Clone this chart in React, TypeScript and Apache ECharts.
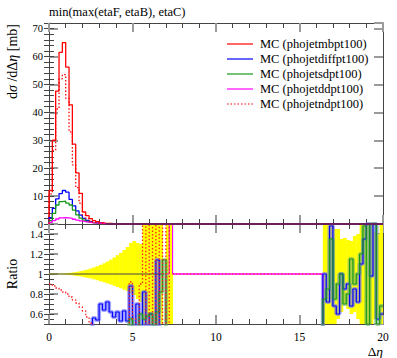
import React, { useEffect, useRef } from 'react';
import * as echarts from 'echarts';

const FONT = 'Liberation Serif';
const BIN = 0.2;
const X_MAX = 20;
const TITLE = 'min(max(etaF, etaB), etaC)';
const LEGEND = ['MC (phojetmbpt100)', 'MC (phojetdiffpt100)', 'MC (phojetsdpt100)', 'MC (phojetddpt100)', 'MC (phojetndpt100)'];
const COLORS = ['#ff0000', '#0000ff', '#169916', '#ff00ff', '#ff0000'];

// top panel: dσ/dΔη [mb], bins of 0.2 starting at 0
const mbpt100 = [12, 30, 47.6, 61.5, 65, 56.2, 42.7, 28.6, 18.3, 11, 4.3, 3.0, 1.9, 1.2, 0.8, 0.5, 0.35, 0.25, 0.18, 0.12, 0.08];
const diffpt100 = [2.3, 5.6, 9.0, 10.9, 12.0, 11.4, 8.8, 6.5, 4.7, 3.2, 2.0, 1.3, 0.8, 0.5, 0.35, 0.25, 0.15, 0.1];
const sdpt100 = [1.2, 3.8, 6.8, 8.0, 8.2, 7.5, 6.8, 5.0, 3.3, 2.1, 1.4, 0.9, 0.6, 0.4, 0.25, 0.15, 0.1];
const ddpt100 = [0.6, 1.2, 1.8, 2.2, 2.3, 2.2, 2.0, 1.7, 1.4, 1.1, 0.85, 0.65, 0.5, 0.38, 0.28, 0.2, 0.14, 0.1];
const ndpt100 = [10.8, 26.4, 41.2, 52, 53.5, 45, 33, 21.2, 13, 7.5, 3.2, 1.9, 1.0, 0.55, 0.35, 0.2, 0.12, 0.08, 0.05];
// all curves overlap at zero beyond this range
const zeroOverlap: number[][] = [[3.4, 0], [20, 0]];

// ratio panel: reference uncertainty band, bins of 0.2 from 0 and from 16.4
const bandUpLeft = [1.004, 1.004, 1.004, 1.005, 1.007, 1.009, 1.012, 1.017, 1.022, 1.029, 1.036, 1.045, 1.055, 1.066, 1.078, 1.092, 1.107, 1.124, 1.143, 1.165, 1.188, 1.212, 1.24, 1.27, 1.31, 1.33, 1.31, 1.3, 1.5, 1.5, 1.5, 1.5, 1.5, 1.5, 1, 1.5, 1.5];
const bandLoLeft = [0.996, 0.996, 0.996, 0.995, 0.994, 0.991, 0.989, 0.985, 0.98, 0.975, 0.968, 0.962, 0.955, 0.946, 0.937, 0.927, 0.917, 0.906, 0.895, 0.883, 0.87, 0.857, 0.843, 0.828, 0.81, 0.79, 0.75, 0.72, 0.5, 0.5, 0.5, 0.5, 0.5, 0.5, 1, 0.5, 0.5];
const bandUpRight = [1.5, 1.5, 1.5, 1.45, 1.45, 1.35, 1.36, 1.34, 1.33, 1.38, 1.4, 1.5, 1.5, 1.5, 1.5, 1.42, 1.4, 1.5];
const bandLoRight = [0.5, 0.5, 0.5, 0.5, 0.55, 0.62, 0.7, 0.65, 0.6, 0.62, 0.55, 0.5, 0.5, 0.5, 0.5, 0.55, 0.57, 0.5];

// ratios (bins of 0.2)
const ndRatioLeft = [0.9, 0.88, 0.86, 0.84, 0.82, 0.8, 0.77, 0.74, 0.71, 0.67, 0.63, 0.57, 0.51, 0.44, 0.4, 0.35, 0.3, 0.3, 0.3, 0.3, 0.3, 0.3, 0.3, 0.3, 0.92, 0.55, 0.4, 0.9, 2, 0.2, 2, 0.3, 2, 0.2, 2, 0.2, 2];
const diffRatioLeft = [0.45, 0.56, 0.54, 0.7, 0.64, 0.72, 0.62, 0.57, 0.62, 0.53, 0.63, 0.53, 0.88, 0.45, 0.7, 0.4, 0.82, 0.45, 0.6, 0.4, 1.14, 0.3, 0.3]; // from 2.4
const sdRatioLeft = [0.3, 0.55, 0.4, 0.45, 0.6, 0.55, 0.58, 0.6, 0.45, 0.62, 0.82, 1.14, 0.3]; // from 4.6
const diffRatioRight = [0.3, 1.0, 0.72, 1.48, 0.68, 0.6, 1.0, 0.85, 0.9, 0.68, 0.85, 0.72, 1.1, 1.35, 1.5, 0.98, 1.5, 0.55, 0.6]; // from 16.2
const sdRatioRight = [0.3, 0.75, 0.85, 1.35, 0.75, 0.9, 1.0, 0.7, 0.8, 1.15, 0.9, 1.0, 1.2, 1.48, 0.5, 1.5, 1.5, 0.5, 0.68]; // from 16.2
const ddRatio: number[][] = [[6.8, 0.2], [7.0, 1.0], [7.2, 2.0], [7.4, 1.0], [16.4, 0.2], [16.6, 0.2]];
const emptyRatio: number[][] = [[7.4, 1.0], [16.4, 1.0]];
const refLine: number[][] = [[0, 1], [6.9, 1]];

const r2 = (v: number) => Math.round(v * 100) / 100;

function stepPts(x0: number, vals: number[]) {
  const pts = vals.map((v, i) => [r2(x0 + i * BIN), v]);
  pts.push([r2(x0 + vals.length * BIN), vals[vals.length - 1]]);
  return pts;
}
function histPts(vals: number[]) {
  const pts = [[0, 0], ...stepPts(0, vals)];
  pts.push([r2(vals.length * BIN), 0]);
  return pts;
}
function bandData(x0: number, up: number[], lo: number[]) {
  return up.map((u, i) => [r2(x0 + i * BIN), r2(x0 + (i + 1) * BIN), lo[i], u]);
}

const frameLine = { show: true, onZero: false, lineStyle: { color: '#444', width: 1 } };
const majorTick = { show: true, inside: true, length: 9, lineStyle: { color: '#9a9a9a', width: 2 } };
const minorTickStyle = { color: '#444', width: 1 };
const labelStyle = { color: '#000', fontFamily: FONT, fontSize: 11.5 };
const txt = (size: number, extra: any = {}) => ({ fill: '#000', fontFamily: FONT, fontSize: size, ...extra });

function xAxisCfg(gridIndex: number, position: string, labels: boolean) {
  return {
    type: 'value', gridIndex, position, min: 0, max: X_MAX, interval: 5,
    axisLine: frameLine, axisTick: majorTick,
    minorTick: { show: true, splitNumber: 5, length: 5, lineStyle: minorTickStyle },
    axisLabel: labels ? { show: true, margin: 7, ...labelStyle } : { show: false },
    splitLine: { show: false }, minorSplitLine: { show: false },
  };
}
function yMajor(gridIndex: number, position: string, min: number, max: number, interval: number | null, labels: boolean) {
  const a: any = {
    type: 'value', gridIndex, position, min, max,
    axisLine: frameLine, axisTick: majorTick, splitLine: { show: false },
    axisLabel: labels ? { show: true, margin: 6, showMinLabel: min === 0, showMaxLabel: false, ...labelStyle, fontSize: 10.5 } : { show: false },
  };
  if (interval) a.interval = interval; else a.splitNumber = 5;
  return a;
}
function yMinor(gridIndex: number, position: string, min: number, max: number, interval: number) {
  return {
    type: 'value', gridIndex, position, min, max, interval,
    axisLine: { show: false }, axisLabel: { show: false }, splitLine: { show: false },
    axisTick: { show: true, inside: true, length: 5, lineStyle: minorTickStyle },
  };
}

function lineSeries(data: number[][], xi: number, yi: number, color: string, width: number, dotted: boolean, opacity = 1, z = 2) {
  return {
    type: 'line', xAxisIndex: xi, yAxisIndex: yi, step: 'end', symbol: 'none', silent: true, clip: true, z,
    data, lineStyle: { color, width, opacity, type: dotted ? [1.5, 2] : 'solid' },
  };
}

function bandSeries(data: number[][]) {
  return {
    type: 'custom', xAxisIndex: 2, yAxisIndex: 4, silent: true, clip: true, z: 1,
    encode: { x: [0, 1], y: [2, 3] },
    data,
    renderItem: (_p: any, api: any) => {
      const c = (v: number) => Math.max(0.5, Math.min(1.5, v));
      const p0 = api.coord([api.value(0), c(api.value(3))]);
      const p1 = api.coord([api.value(1), c(api.value(2))]);
      return { type: 'rect', shape: { x: p0[0], y: p0[1], width: p1[0] - p0[0] + 0.4, height: p1[1] - p0[1] }, style: { fill: '#ffff00' } };
    },
  };
}

export default function App() {
  const ref = useRef<HTMLDivElement>(null);
  useEffect(() => {
    const chart = echarts.init(ref.current!, null, { renderer: 'svg', width: 397, height: 358 });
    const legendGraphics: any[] = [];
    LEGEND.forEach((t, i) => {
      const y = 44 + i * 15;
      legendGraphics.push({ type: 'line', shape: { x1: 227, y1: y, x2: 253, y2: y }, style: { stroke: COLORS[i], lineWidth: 1.2, lineDash: i === 4 ? [1.5, 2] : null } });
      legendGraphics.push({ type: 'text', x: 260, y, style: { text: t, ...txt(12.5), verticalAlign: 'middle', align: 'left' } });
    });
    const tops = [mbpt100, diffpt100, sdpt100, ddpt100, ndpt100];
    const option: any = {
      animation: false,
      backgroundColor: '#fff',
      grid: [
        { left: 49, top: 23, width: 334, height: 201 },
        { left: 49, top: 224, width: 334, height: 100 },
      ],
      xAxis: [
        xAxisCfg(0, 'bottom', false),
        xAxisCfg(0, 'top', false),
        xAxisCfg(1, 'bottom', true),
        xAxisCfg(1, 'top', false),
      ],
      yAxis: [
        yMajor(0, 'left', 0, 72, 10, true),
        yMinor(0, 'left', 0, 72, 2),
        yMajor(0, 'right', 0, 72, 10, false),
        yMinor(0, 'right', 0, 72, 2),
        yMajor(1, 'left', 0.5, 1.5, null, true),
        yMinor(1, 'left', 0.5, 1.5, 0.05),
        yMajor(1, 'right', 0.5, 1.5, null, false),
        yMinor(1, 'right', 0.5, 1.5, 0.05),
      ],
      series: [
        ...tops.map((v, i) => lineSeries(histPts(v), 0, 0, COLORS[i], 1.3, i === 4, 1, 3 + i)),
        lineSeries(zeroOverlap, 0, 0, '#6a1f5f', 2, false, 1, 9),
        bandSeries(bandData(0, bandUpLeft, bandLoLeft)),
        bandSeries(bandData(16.4, bandUpRight, bandLoRight)),
        lineSeries(refLine, 2, 4, '#444', 1.2, false, 1, 3),
        lineSeries(ddRatio, 2, 4, '#ff00ff', 1.1, false, 1, 3),
        lineSeries(emptyRatio, 2, 4, '#ff00ff', 1.1, false, 1, 3),
        lineSeries(stepPts(2.4, diffRatioLeft), 2, 4, '#7070ff', 4, false, 0.6, 2),
        lineSeries(stepPts(16.2, diffRatioRight), 2, 4, '#7070ff', 4, false, 0.6, 2),
        lineSeries(stepPts(4.6, sdRatioLeft), 2, 4, '#70b070', 4, false, 0.6, 2),
        lineSeries(stepPts(16.2, sdRatioRight), 2, 4, '#70b070', 4, false, 0.6, 2),
        lineSeries(stepPts(2.4, diffRatioLeft), 2, 4, '#0000ff', 1.2, false, 1, 4),
        lineSeries(stepPts(16.2, diffRatioRight), 2, 4, '#0000ff', 1.2, false, 1, 4),
        lineSeries(stepPts(4.6, sdRatioLeft), 2, 4, '#169916', 1.2, false, 1, 4),
        lineSeries(stepPts(16.2, sdRatioRight), 2, 4, '#169916', 1.2, false, 1, 4),
        lineSeries(stepPts(0, ndRatioLeft), 2, 4, '#ff2020', 1.3, true, 1, 5),
        lineSeries(emptyRatio, 2, 4, '#ff2020', 1.1, true, 1, 5),
      ],
      graphic: [
        { type: 'text', x: 49, y: 12, style: { text: TITLE, ...txt(12.5), verticalAlign: 'middle', align: 'left' } },
        {
          type: 'text', x: 12, y: 24, rotation: Math.PI / 2,
          style: {
            text: '{n|d}{i|σ}{n| /d}{n|Δ}{i|η}{n| [mb]}', align: 'right', verticalAlign: 'middle',
            rich: { n: txt(14), i: txt(14, { fontStyle: 'italic' }) },
          },
        },
        { type: 'text', x: 12, y: 274, rotation: Math.PI / 2, style: { text: 'Ratio', ...txt(14), align: 'center', verticalAlign: 'middle' } },
        {
          type: 'text', x: 383, y: 351,
          style: {
            text: '{n|Δ}{i|η}', align: 'right', verticalAlign: 'middle',
            rich: { n: txt(13.5), i: txt(13.5, { fontStyle: 'italic' }) },
          },
        },
        ...legendGraphics,
      ],
    };
    chart.setOption(option);
    return () => chart.dispose();
  }, []);
  return <div ref={ref} style={{ position: 'fixed', left: 0, top: 0, width: 397, height: 358, background: '#fff' }} />;
}
